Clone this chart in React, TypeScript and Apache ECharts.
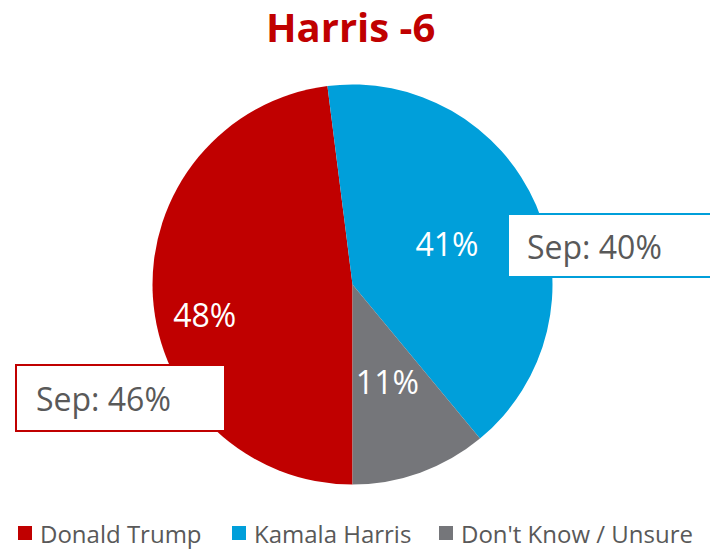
import React, { useEffect, useRef } from "react";
import * as echarts from "echarts";

const titleText = "Harris -6";
const categories = ["Donald Trump", "Kamala Harris", "Don't Know / Unsure"];
const values = [48, 41, 11];
const colors = ["#C00000", "#009FDA", "#75767A"];
const septemberLabels = ["Sep: 46%", "Sep: 40%"];

export default function App() {
  const ref = useRef<HTMLDivElement>(null);
  useEffect(() => {
    if (!ref.current) return;
    const chart = echarts.init(ref.current, null, { renderer: "svg" });
    const legendLefts = [18, 232, 439];
    chart.setOption({
      animation: false,
      color: colors,
      title: {
        text: titleText,
        left: 266,
        top: 6,
        padding: 0,
        textStyle: {
          fontFamily: "Open Sans",
          fontWeight: "bold",
          fontSize: 40,
          color: "#C00000",
        },
      },
      legend: categories.map((c, i) => ({
        data: [c],
        left: legendLefts[i],
        top: 520,
        padding: 0,
        itemWidth: 14,
        itemHeight: 14,
        icon: "rect",
        textStyle: {
          fontFamily: "Open Sans",
          fontSize: 24,
          lineHeight: 26,
          color: "#595959",
          padding: [0, 0, 0, 3],
        },
      })),
      series: [
        {
          type: "pie",
          center: [352.5, 284.5],
          radius: 200,
          startAngle: 270,
          clockwise: true,
          avoidLabelOverlap: false,
          label: {
            show: true,
            position: "inside",
            formatter: "{c}%",
            color: "#ffffff",
            fontFamily: "Open Sans",
            fontSize: 32,
          },
          labelLine: { show: false },
          labelLayout: (p: any) =>
            p.dataIndex === 0 ? { dx: -45, dy: 24 } : {},
          emphasis: { disabled: true },
          data: categories.map((c, i) => ({ name: c, value: values[i] })),
        },
      ],
      graphic: [
        {
          type: "group",
          left: 15,
          top: 364,
          z: 100,
          children: [
            {
              type: "rect",
              z: 100,
              shape: { x: 0, y: 0, width: 209, height: 66 },
              style: { fill: "#ffffff", stroke: "#C00000", lineWidth: 2 },
            },
            {
              type: "text",
              z: 101,
              x: 20,
              y: 33,
              style: {
                text: septemberLabels[0],
                fill: "#595959",
                font: "32px 'Open Sans'",
                verticalAlign: "middle",
              },
            },
          ],
        },
        {
          type: "group",
          left: 507,
          top: 213,
          z: 100,
          children: [
            {
              type: "rect",
              z: 100,
              shape: { x: 0, y: 0, width: 220, height: 63 },
              style: { fill: "#ffffff", stroke: "#009FDA", lineWidth: 2 },
            },
            {
              type: "text",
              z: 101,
              x: 19,
              y: 32,
              style: {
                text: septemberLabels[1],
                fill: "#595959",
                font: "32px 'Open Sans'",
                verticalAlign: "middle",
              },
            },
          ],
        },
      ],
    });
    return () => chart.dispose();
  }, []);
  return (
    <div
      ref={ref}
      style={{ position: "fixed", left: 0, top: 0, width: 710, height: 549, background: "#fff" }}
    />
  );
}
